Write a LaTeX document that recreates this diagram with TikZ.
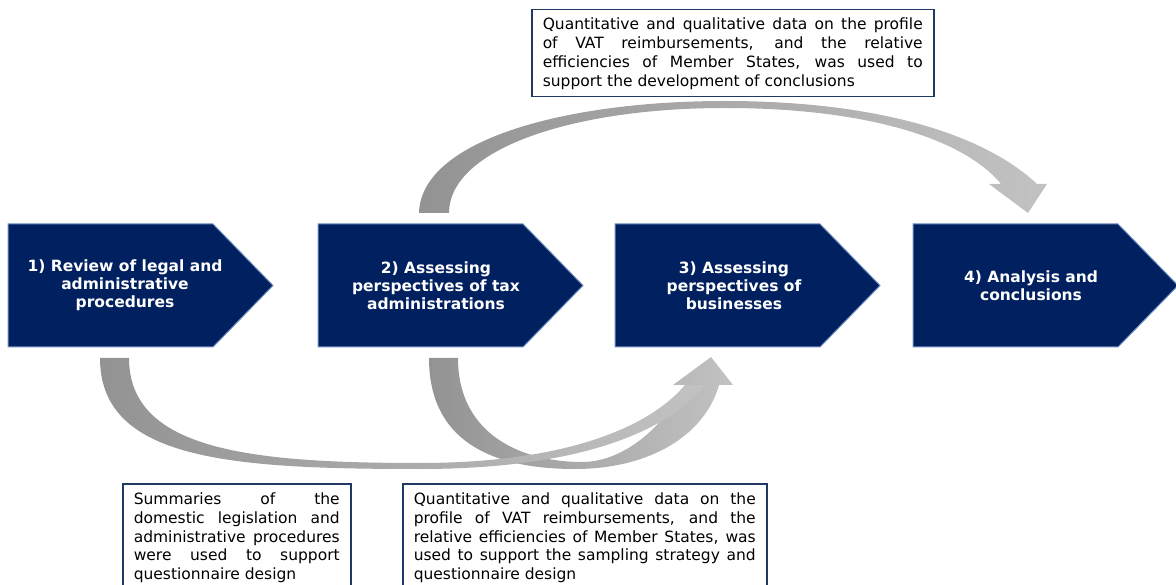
\documentclass[tikz,border=0pt]{standalone}
\usepackage{fontspec}
\setmainfont{DejaVu Sans}
\definecolor{navy}{HTML}{002060}
\definecolor{chevedge}{HTML}{6F8FC0}
\definecolor{boxedge}{HTML}{1F3864}
\definecolor{ardark}{HTML}{939393}
\definecolor{arlight}{HTML}{C2C2C2}
\begin{document}
\begin{tikzpicture}[x=1pt,y=-1pt,
  chev/.style={fill=navy,draw=chevedge,line width=1pt},
  chevtext/.style={text=white,font=\fontsize{15.5}{18}\selectfont\bfseries,align=center,inner sep=0pt},
  infobox/.style={draw=boxedge,line width=1.5pt,fill=white,inner xsep=11pt,inner ysep=0pt,
    font=\fontsize{15.5}{19}\selectfont,align=justify,anchor=north west},
  ribbon/.style={left color=ardark,right color=arlight,draw=none}]
\path[use as bounding box] (0,0) rectangle (1176,585);
\clip (0,0) rectangle (1176,585);

% chevrons
\foreach \L/\nm in {8/c1,318/c2,615/c3,913/c4}{
  \path[chev] (\L,224) -- ++(205,0) -- ++(60,61.5) -- ++(-60,61.5) -- ++(-205,0) -- cycle;
}
\node[chevtext] (t1) at (125,285.5) {1) Review of legal and\\administrative\\procedures};
\node[chevtext] (t2) at (436,285.5) {2) Assessing\\perspectives of tax\\administrations};
\node[chevtext] (t3) at (734,285.5) {3) Assessing\\perspectives of\\businesses};
\node[chevtext] (t4) at (1031,285.5) {4) Analysis and\\conclusions};

% top ribbon arrow (2 -> 4)
\path[ribbon] (419,213) .. controls (421,140) and (565,101) .. (725,101)
  .. controls (880,101) and (985,135) .. (1037,184) -- (1047,184) -- (1028,213) -- (989,184) -- (1001,184)
  .. controls (965,140) and (870,108) .. (725,108)
  .. controls (570,108) and (449,150) .. (449,213) -- cycle;

% bottom ribbon from 2 -> 3 (with the shared head)
\path[ribbon] (429,358) .. controls (429,440) and (490,469) .. (575,469)
  .. controls (650,469) and (705,435) .. (719,385) -- (733,385) -- (711,357) -- (673,385) -- (685,385)
  .. controls (665,425) and (625,462) .. (582,462)
  .. controls (522,462) and (458,435) .. (458,358) -- cycle;

% bottom ribbon from 1 -> 3
\path[ribbon] (100,358) .. controls (100,460) and (230,469) .. (420,469)
  .. controls (560,469) and (660,440) .. (705,385) -- (685,385)
  .. controls (645,432) and (555,463) .. (420,463)
  .. controls (250,463) and (129,450) .. (129,358) -- cycle;

% text boxes
\node[infobox,text width=380pt,minimum height=87pt] (top) at (531,9)
  {Quantitative and qualitative data on the profile\linebreak of VAT reimbursements, and the relative\linebreak efficiencies of Member States, was used to\linebreak support the development of conclusions};
\node[infobox,text width=206pt,minimum height=108pt,font=\fontsize{15.5}{18.75}\selectfont] (bl) at (122,483)
  {Summaries of the\linebreak domestic legislation and\linebreak administrative procedures\linebreak were used to support\linebreak questionnaire design};
\node[infobox,text width=342pt,minimum height=108pt,font=\fontsize{15.5}{18.75}\selectfont] (br) at (402,483)
  {Quantitative and qualitative data on the\linebreak profile of VAT reimbursements, and the\linebreak relative efficiencies of Member States, was\linebreak used to support the sampling strategy and\linebreak questionnaire design};
\end{tikzpicture}
\end{document}
